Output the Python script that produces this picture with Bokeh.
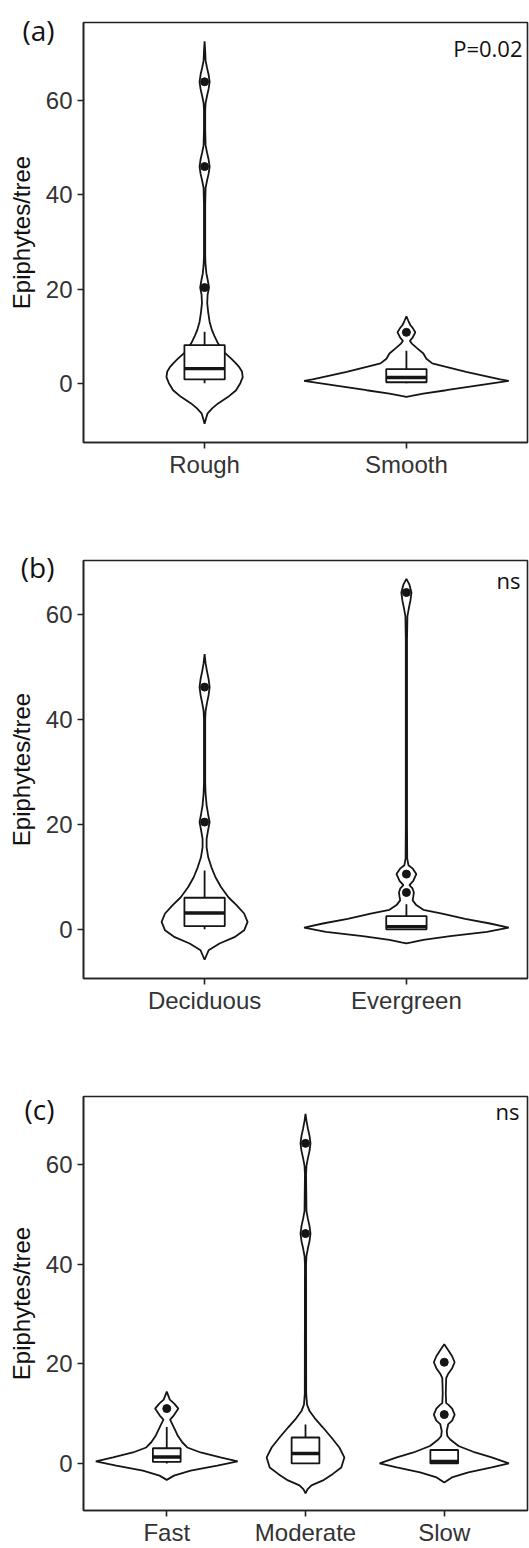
from bokeh.plotting import figure
from bokeh.models import FixedTicker, Label, FactorRange, Range1d, LinearAxis
from bokeh.layouts import column
from bokeh.embed import file_html
from bokeh.resources import INLINE

# ---------------- data ----------------
# violin outlines: y values and half-widths in % of one category width
# Panel (a)
A_CATS = ["Rough", "Smooth"]
ROUGH_Y = [-8.6, -7.5, -6.4, -5.3, -4.3, -2.9, -1.5, 0.0, 1.3, 2.5, 3.4, 4.3, 5.2, 6.5, 8.4, 10.0, 11.2,
           13.0, 15.0, 17.0, 18.8, 20.3, 21.8, 23.3, 25.0, 27.0, 30.0, 38.0, 41.5, 43.0, 44.5, 46.0,
           47.5, 49.0, 50.5, 54.0, 58.0, 59.5, 61.0, 62.5, 64.0, 65.5, 67.0, 68.5, 70.5, 72.6]
ROUGH_W = [0, 0.7, 1.5, 3.9, 6.7, 11.7, 15.6, 17.7, 18.9, 18.5, 17.2, 15.3, 13.2, 9.9, 6.7, 4.9, 3.7,
           2.5, 1.8, 1.3, 1.5, 2.2, 1.6, 0.9, 0.5, 0.3, 0.3, 0.3, 0.5, 1.2, 2.0, 2.5,
           2.0, 1.2, 0.5, 0.3, 0.3, 0.5, 1.2, 2.0, 2.5, 2.0, 1.2, 0.5, 0.3, 0]
SMOOTH_Y = [-2.9, -2.7, -2.2, -1.5, -1.1, -0.4, 0.5, 0.8, 1.3, 2.4, 3.5, 4.2, 5.2, 6.3, 7.4, 8.4, 9.0,
            9.6, 10.8, 11.8, 12.3, 13.2, 14.2]
SMOOTH_W = [0, 2.5, 8.4, 19.7, 25.6, 36.5, 50.7, 46.5, 41.4, 29.6, 19.2, 12.8, 9.9, 8.4, 5.4, 2.7, 1.7,
            3.0, 4.4, 3.0, 2.0, 1.0, 0]
# boxplots: [low whisker, Q1, median, Q3, high whisker]
A_BOX = {"Rough": [0, 0.8, 3.1, 8.1, 10.9], "Smooth": [0, 0.2, 1.2, 3.0, 6.9]}
A_OUT = {"Rough": [20.3, 46.0, 64.0], "Smooth": [10.8]}

# Panel (b)
B_CATS = ["Deciduous", "Evergreen"]
DECID_Y = [-5.8, -4.9, -4.0, -2.7, -1.5, -0.2, 1.4, 3.0, 4.6, 6.1, 8.0, 9.9, 11.8, 13.7, 15.6, 17.2,
           18.8, 20.4, 22.0, 23.6, 25.8, 28.0, 35.0, 40.0, 41.6, 43.1, 44.6, 46.1, 47.6, 49.1, 50.6, 52.4]
DECID_W = [0, 1.0, 2.0, 7.4, 14.8, 19.6, 21.3, 19.6, 15.8, 11.8, 8.2, 5.4, 3.4, 1.8, 1.0, 1.0,
           1.7, 2.5, 1.7, 1.0, 0.5, 0.3, 0.3, 0.3, 0.5, 1.2, 2.0, 2.5, 2.0, 1.2, 0.5, 0]
EVER_Y = [-2.7, -2.5, -2.0, -1.3, -0.5, 0.3, 1.1, 2.0, 3.0, 3.7, 4.6, 5.5, 6.2, 7.0, 7.8, 8.4, 9.2,
          10.5, 11.6, 12.2, 13.5, 20.0, 55.0, 59.6, 61.1, 62.6, 64.1, 65.6, 66.7]
EVER_W = [0, 2.5, 8.4, 21.7, 39.9, 50.7, 41.4, 29.1, 17.7, 8.4, 4.9, 3.1, 3.4, 3.7, 3.0, 1.5, 3.4,
          4.9, 3.0, 1.0, 0.4, 0.3, 0.3, 0.5, 1.2, 2.0, 2.5, 1.5, 0]
B_BOX = {"Deciduous": [0, 0.6, 3.1, 6.0, 11.2], "Evergreen": [0, 0.0, 0.5, 2.5, 4.75]}
B_OUT = {"Deciduous": [20.4, 46.1], "Evergreen": [7.0, 10.5, 64.1]}

# Panel (c)
C_CATS = ["Fast", "Moderate", "Slow"]
FAST_Y = [-3.3, -2.45, -1.46, -0.46, 0.4, 1.2, 2.2, 3.2, 4.2, 5.5, 7.2, 8.8, 9.6, 11.0, 12.0, 12.8, 14.4]
FAST_W = [0, 5.2, 17.2, 36.4, 51.1, 38.7, 24.4, 14.8, 11.3, 8.1, 5.2, 2.4, 5.0, 8.4, 5.4, 2.2, 0]
MOD_Y = [-6.0, -5.2, -4.4, -3.4, -2.1, -0.8, 1.2, 3.2, 5.2, 7.2, 9.1, 10.5, 11.8, 14.0, 40.0, 41.6,
         43.1, 44.6, 46.1, 47.6, 49.1, 50.6, 58.0, 59.7, 61.2, 62.7, 64.2, 65.7, 67.2, 68.7, 70.1]
MOD_W = [0, 1.4, 4.3, 12.6, 19.7, 25.8, 28.0, 24.4, 18.7, 12.6, 6.6, 2.9, 1.1, 0.5, 0.4, 0.7,
         1.7, 2.9, 3.6, 2.9, 1.7, 0.7, 0.4, 0.7, 1.7, 2.9, 3.6, 2.9, 1.7, 0.7, 0]
SLOW_Y = [-3.8, -2.8, -1.8, -0.8, 0.0, 1.2, 2.2, 3.5, 4.8, 5.5, 6.5, 7.9, 8.6, 9.8, 11.0, 11.8, 12.1,
          14.0, 17.1, 18.0, 19.1, 20.3, 21.5, 22.7, 23.9]
SLOW_W = [0, 5.5, 17.4, 34.2, 46.6, 34.2, 22.2, 10.3, 4.3, 2.2, 1.8, 2.9, 5.7, 7.5, 5.7, 2.9, 1.4,
          1.1, 1.4, 2.9, 5.7, 7.5, 5.7, 2.9, 0]
C_BOX = {"Fast": [0, 0.3, 1.3, 3.05, 7.3], "Moderate": [0, 0.0, 2.0, 5.2, 7.8], "Slow": [0, 0.0, 0.4, 2.7, 2.7]}
C_OUT = {"Fast": [11.0], "Moderate": [46.1, 64.2], "Slow": [9.8, 20.3]}

Y_TICKS = [0, 20, 40, 60]
Y_LABEL = "Epiphytes/tree"
PANEL_TAGS = ["(a)", "(b)", "(c)"]
NOTES = ["P=0.02", "ns", "ns"]

# ---------------- styling ----------------
AX_FONT = "Liberation Sans"
NOTE_FONT = "Open Sans"
LW = 1.8
INK = "#151515"


def violin(p, cat, ys, ws):
    xs = [(cat, w / 100.0) for w in ws] + [(cat, -w / 100.0) for w in reversed(ws)]
    yy = list(ys) + list(reversed(ys))
    p.patch(x=xs, y=yy, fill_color="white", line_color=INK, line_width=LW)


def boxplot(p, cat, stats, outs):
    lo, q1, med, q3, hi = stats
    p.segment(x0=[cat, cat], x1=[cat, cat], y0=[q3, lo], y1=[hi, q1], line_color=INK, line_width=LW)
    p.vbar(x=[cat], width=0.2, bottom=[q1], top=[q3], fill_color="white", line_color=INK, line_width=LW)
    p.segment(x0=[(cat, -0.1)], x1=[(cat, 0.1)], y0=[med], y1=[med], line_color=INK, line_width=3.4)
    p.scatter(x=[cat] * len(outs), y=outs, size=8, color=INK)


def make_panel(cats, violins, boxes, outs, yr, height, bl, bt, bb, br, tag, tag_y, note, note_top, note_right):
    p = figure(width=529, height=height,
               x_range=FactorRange(*cats, range_padding=0.1, range_padding_units="absolute"),
               y_range=Range1d(*yr), output_backend="svg", toolbar_location=None,
               min_border_left=bl, min_border_top=bt, min_border_bottom=bb, min_border_right=br)
    p.xgrid.visible = False
    p.ygrid.visible = False
    p.outline_line_color = "#222222"
    p.outline_line_width = 1.6
    p.outline_line_alpha = 1
    for ax in (p.xaxis[0], p.yaxis[0]):
        ax.axis_line_color = "#222222"
        ax.axis_line_width = 1.6
        ax.major_tick_line_color = "#222222"
        ax.major_tick_line_width = 1.6
        ax.major_tick_out = 6
        ax.major_tick_in = 0
        ax.minor_tick_out = 0
        ax.minor_tick_in = 0
        ax.major_label_text_font = AX_FONT
        ax.major_label_text_font_size = "24px"
        ax.major_label_text_color = "#333333"
    p.xaxis.major_label_standoff = 2
    p.yaxis.major_label_standoff = 5
    p.yaxis.ticker = FixedTicker(ticks=Y_TICKS)
    p.yaxis.axis_label = Y_LABEL
    p.yaxis.axis_label_text_font = AX_FONT
    p.yaxis.axis_label_text_font_size = "24px"
    p.yaxis.axis_label_text_font_style = "normal"
    p.yaxis.axis_label_text_color = "#111111"
    p.yaxis.axis_label_standoff = 8

    # panel tag, drawn as the only label of an outer, line-less left axis
    tag_axis = LinearAxis(ticker=FixedTicker(ticks=[tag_y]), major_label_overrides={tag_y: tag},
                          axis_line_color=None, major_tick_line_color=None, minor_tick_line_color=None,
                          major_tick_out=0, major_tick_in=0, minor_tick_out=0, minor_tick_in=0,
                          major_label_standoff=-50, major_label_text_font=NOTE_FONT,
                          major_label_text_font_size="28px", major_label_text_color="#111111")
    p.add_layout(tag_axis, "left")

    for cat in cats:
        ys, ws = violins[cat]
        violin(p, cat, ys, ws)
    for cat in cats:
        boxplot(p, cat, boxes[cat], outs[cat])
    fh = height - bt - bb
    fw = 529 - bl - br
    p.add_layout(Label(x=fw - note_right, y=fh - note_top, x_units="screen", y_units="screen", text=note,
                       text_font=NOTE_FONT, text_font_size="22px", text_align="right",
                       text_baseline="top", text_color="#111111"))
    return p


pa = make_panel(A_CATS, {"Rough": (ROUGH_Y, ROUGH_W), "Smooth": (SMOOTH_Y, SMOOTH_W)},
                A_BOX, A_OUT, (-12.6, 76.6), 505, 81, 22, 63, 2, PANEL_TAGS[0], 75, NOTES[0], 10, 7)
pb = make_panel(B_CATS, {"Deciduous": (DECID_Y, DECID_W), "Evergreen": (EVER_Y, EVER_W)},
                B_BOX, B_OUT, (-9.37, 70.2), 540, 81, 55, 67, 2, PANEL_TAGS[1], 69, NOTES[1], 4, 9)
pc = make_panel(C_CATS, {"Fast": (FAST_Y, FAST_W), "Moderate": (MOD_Y, MOD_W), "Slow": (SLOW_Y, SLOW_W)},
                C_BOX, C_OUT, (-9.44, 73.6), 503, 83, 51, 34, 1, PANEL_TAGS[2], 71, NOTES[2], 3, 9)

layout = column(pa, pb, pc, spacing=0)
open("out.html", "w").write(file_html(layout, INLINE))
